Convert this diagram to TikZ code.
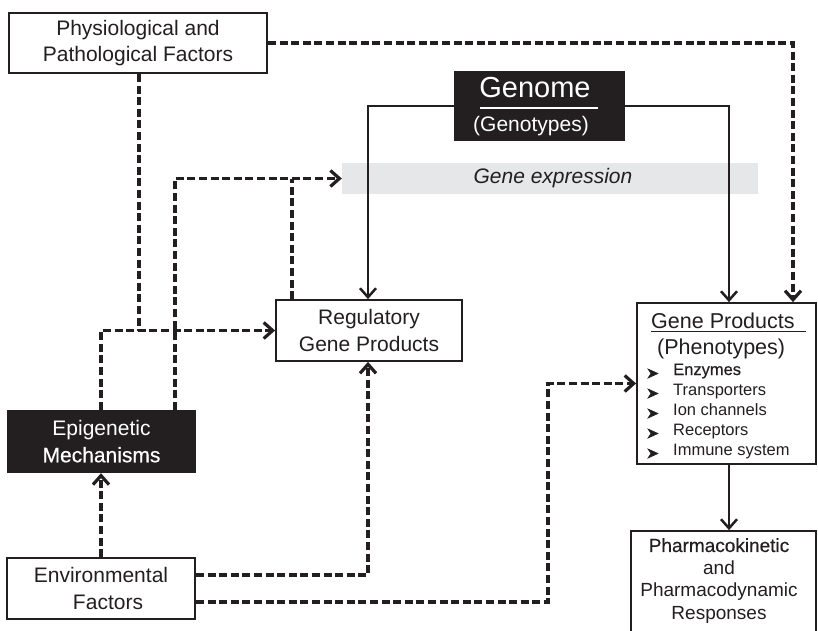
\documentclass[tikz,border=0pt]{standalone}
\usepackage{fontspec}
\setmainfont{Liberation Sans}
\newfontfamily\heavyfont{Liberation Sans}[FakeBold=0.5]
\usetikzlibrary{arrows.meta}
\definecolor{ink}{HTML}{231F20}
\definecolor{band}{HTML}{E6E7E8}

\begin{document}
\begin{tikzpicture}[x=1pt,y=-1pt,
  box/.style={draw=ink, line width=1.8pt, fill=white, inner sep=0pt, align=center,
              text=ink, font=\fontsize{21}{26.5}\selectfont},
  darkbox/.style={fill=ink, inner sep=0pt, align=center, text=white,
              font=\fontsize{21}{26.5}\selectfont},
  label/.style={inner sep=0pt, text=ink},
  dash link/.style={draw=ink, line width=3.2pt, dash pattern=on 8pt off 3.6pt},
  solid link/.style={draw=ink, line width=2.5pt},
  barb/.style={-{Straight Barb[length=9pt,width=16pt]}},
  bullet mark/.style={fill=ink, draw=ink, line width=0.6pt, line join=miter}
]
\useasboundingbox (0,0) rectangle (818,630);
\clip (0,0) rectangle (818,630);

% shaded band for gene expression
\node[fill=band, inner sep=0pt, minimum width=416pt, minimum height=31pt,
      font=\fontsize{21}{21}\selectfont\itshape, text=ink] (expr) at (550,178.5) {\hspace{6pt}Gene expression};

% boxes
\node[box, minimum width=258pt, minimum height=60pt] (phys) at (138,43)
  {Physiological and\\Pathological Factors\hspace{10pt}};
\node[darkbox, minimum width=171pt, minimum height=70pt] (genome) at (539.5,106) {};
\node[box, minimum width=186pt, minimum height=61pt] (reg) at (369,330.5)
  {Regulatory\\Gene Products};
\node[darkbox, minimum width=189pt, minimum height=63pt] (epig) at (101.5,441.5)
  {Epigenetic\\{\heavyfont Mechanisms}};
\node[box, minimum width=188pt, minimum height=61pt] (env) at (101,588.5)
  {Environmental\\\hspace{14pt}Factors};
\node[box, minimum width=179pt, minimum height=161pt] (gp) at (726.5,383.5) {};
\node[box, minimum width=185pt, minimum height=119pt] (pharm) at (723.5,590.5) {};

% genome labels
\node[inner sep=0pt, text=white, anchor=base, font=\fontsize{29}{29}\selectfont] (gname) at (535,97) {Genome};
\draw[white, line width=1.8pt] (480,108) -- (598,108);
\node[inner sep=0pt, text=white, anchor=base, font=\fontsize{21}{21}\selectfont] (gtype) at (531,131) {(Genotypes)};

% gene products labels
\node[label, anchor=base west, font=\fontsize{21.5}{21.5}\selectfont] (gptitle) at (651,328) {Gene Products};
\draw[ink, line width=1.6pt] (651,331.5) -- (806,331.5);
\node[label, anchor=base west, font=\fontsize{21.5}{21.5}\selectfont] (gpsub) at (657,354) {(Phenotypes)};
\foreach \t/\n [count=\i] in {{\heavyfont Enzymes}/enz, Transporters/tra, Ion channels/ion,
                             Receptors/rec, Immune system/imm} {
  % arrowhead bullet
  \fill[bullet mark, shift={(648,349+20*\i)}] (0,0) -- (10,4.5) -- (0,9) -- (3,4.5) -- cycle;
  \node[label, anchor=base west, font=\fontsize{16.5}{16.5}\selectfont] (\n) at (673,355+20*\i) {\t};
}

% response labels
\node[label, align=center, anchor=north, font=\fontsize{19}{22.5}\selectfont] (phtext) at (719,538)
  {{\heavyfont Pharmacokinetic}\\and\\Pharmacodynamic\\Responses};

% connectors
\draw[dash link, barb] (phys.east) -| (793,0 |- gp.north);
\draw[dash link] (139,0 |- phys.south) -- (139,0 |- reg.west);
\draw[dash link, barb] (101,0 |- epig.north) |- (reg.west);
\draw[dash link, barb] (175,0 |- epig.north) |- (expr.west);
\draw[dash link] (292,0 |- reg.north) -- (292,0 |- expr.west);
\draw[solid link, barb] (genome.west) -| (368,0 |- reg.north);
\draw[solid link, barb] (genome.east) -| (729,0 |- gp.north);
\draw[dash link, barb] (101,0 |- env.north) -- (101,0 |- epig.south);
\draw[dash link, barb] (env.east |- 0,575) -| (368,0 |- reg.south);
\draw[dash link, barb] (env.east |- 0,602) -- (548,602) |- (gp.west);
\draw[solid link, barb] (729,0 |- gp.south) -- (729,0 |- pharm.north);
\end{tikzpicture}
\end{document}
